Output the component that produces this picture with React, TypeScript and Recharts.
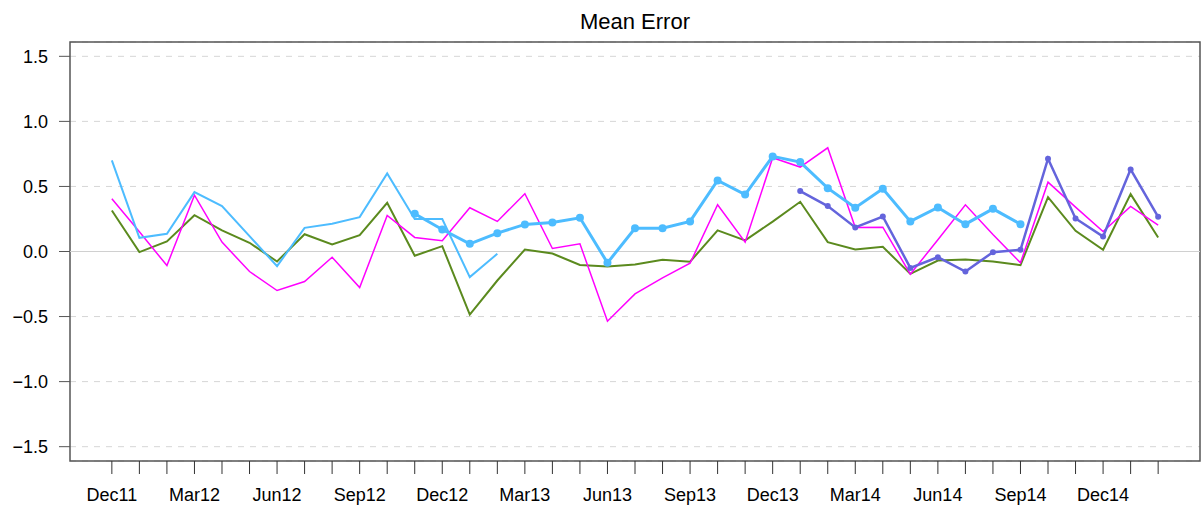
import React from "react";
import {
  CartesianGrid,
  Line,
  LineChart,
  ReferenceArea,
  ReferenceLine,
  XAxis,
  YAxis,
} from "recharts";

const months = [
  "Dec11", "Jan12", "Feb12", "Mar12", "Apr12", "May12", "Jun12", "Jul12", "Aug12", "Sep12",
  "Oct12", "Nov12", "Dec12", "Jan13", "Feb13", "Mar13", "Apr13", "May13", "Jun13", "Jul13",
  "Aug13", "Sep13", "Oct13", "Nov13", "Dec13", "Jan14", "Feb14", "Mar14", "Apr14", "May14",
  "Jun14", "Jul14", "Aug14", "Sep14", "Oct14", "Nov14", "Dec14", "Jan15", "Feb15",
];

const tickLabels = ["Dec11", "Mar12", "Jun12", "Sep12", "Dec12", "Mar13", "Jun13", "Sep13", "Dec13", "Mar14", "Jun14", "Sep14", "Dec14"];

const yTicks = [-1.5, -1, -0.5, 0, 0.5, 1, 1.5];

const green = [
  0.315, -0.005, 0.077, 0.279, 0.162, 0.067, -0.077, 0.133, 0.054, 0.126,
  0.374, -0.033, 0.041, -0.485, -0.223, 0.015, -0.015, -0.103, -0.115, -0.1,
  -0.064, -0.079, 0.162, 0.085, 0.23, 0.382, 0.072, 0.015, 0.036, -0.172,
  -0.069, -0.062, -0.077, -0.105, 0.418, 0.159, 0.013, 0.441, 0.108,
];

const magenta = [
  0.405, 0.151, -0.108, 0.433, 0.072, -0.154, -0.3, -0.231, -0.044, -0.277,
  0.277, 0.108, 0.082, 0.336, 0.231, 0.444, 0.023, 0.059, -0.536, -0.326,
  -0.203, -0.09, 0.359, 0.072, 0.72, 0.649, 0.797, 0.185, 0.187, -0.174,
  0.09, 0.359, 0.131, -0.087, 0.533, 0.341, 0.154, 0.346, 0.203,
];

const blueThin: (number | null)[] = [
  0.7, 0.105, 0.136, 0.456, 0.349, 0.118, -0.113, 0.182, 0.213, 0.264,
  0.6, 0.249, 0.249, -0.197, -0.018,
];

const blueDots: (number | null)[] = [
  null, null, null, null, null, null, null, null, null, null,
  null, 0.29, 0.169, 0.059, 0.141, 0.208, 0.223, 0.259, -0.087, 0.179,
  0.179, 0.231, 0.546, 0.438, 0.731, 0.687, 0.487, 0.336, 0.482, 0.231,
  0.338, 0.21, 0.328, 0.21,
];

const purple: (number | null)[] = [
  null, null, null, null, null, null, null, null, null, null,
  null, null, null, null, null, null, null, null, null, null,
  null, null, null, null, null, 0.464, 0.349, 0.185, 0.269, -0.126,
  -0.044, -0.154, -0.005, 0.013, 0.713, 0.254, 0.115, 0.631, 0.267,
];

const data = months.map((m, i) => ({
  i,
  month: m,
  green: green[i],
  magenta: magenta[i],
  blueThin: blueThin[i] ?? null,
  blueDots: blueDots[i] ?? null,
  purple: purple[i] ?? null,
}));

const xTicks = months.map((_, i) => i);
const font = "'Liberation Sans', Arial, sans-serif";

const fmtY = (v: number) => (v < 0 ? "\u2212" + Math.abs(v).toFixed(1) : v.toFixed(1));
const fmtX = (v: number) => (tickLabels.includes(months[v]) ? months[v] : "");

export default function App() {
  return (
    <div style={{ position: "absolute", left: 0, top: 0, width: 1203, height: 509, background: "#fff" }}>
      <div
        style={{
          position: "absolute",
          left: 70,
          width: 1130,
          top: 9,
          textAlign: "center",
          fontFamily: font,
          fontSize: 22,
          color: "#000",
        }}
      >
        Mean Error
      </div>
      <LineChart width={1203} height={509} data={data} margin={{ top: 42, right: 3, bottom: 0, left: 0 }}>
        <CartesianGrid horizontal vertical={false} stroke="#d6d6d6" strokeDasharray="6 6" />
        <ReferenceLine y={0} stroke="#d0d0d0" strokeWidth={1.2} />
        <XAxis
          dataKey="i"
          type="number"
          domain={[-1.52, 39.52]}
          ticks={xTicks}
          tickFormatter={fmtX}
          interval={0}
          height={48}
          tickSize={13}
          tickMargin={14}
          axisLine={false}
          tickLine={{ stroke: "#333" }}
          tick={{ fill: "#000", fontSize: 18, fontFamily: font }}
          allowDataOverflow
        />
        <YAxis
          type="number"
          domain={[-1.61, 1.61]}
          ticks={yTicks}
          tickFormatter={fmtY}
          width={70}
          tickSize={11}
          tickMargin={11}
          axisLine={false}
          tickLine={{ stroke: "#555" }}
          tick={{ fill: "#000", fontSize: 18, fontFamily: font }}
          allowDataOverflow
        />
        <ReferenceArea x1={-1.52} x2={39.52} y1={-1.61} y2={1.61} fill="none" stroke="#555" strokeWidth={1.5} />
        <Line dataKey="green" stroke="#5b8a1e" strokeWidth={2} dot={false} isAnimationActive={false} />
        <Line dataKey="magenta" stroke="#ff00ff" strokeWidth={1.5} dot={false} isAnimationActive={false} />
        <Line dataKey="blueThin" stroke="#4dbcff" strokeWidth={2} dot={false} isAnimationActive={false} />
        <Line
          dataKey="blueDots"
          stroke="#4dbcff"
          strokeWidth={3}
          dot={{ r: 4, fill: "#4dbcff", stroke: "none" }}
          isAnimationActive={false}
        />
        <Line
          dataKey="purple"
          stroke="#6464dc"
          strokeWidth={2.5}
          dot={{ r: 3, fill: "#6464dc", stroke: "none" }}
          isAnimationActive={false}
        />
      </LineChart>
    </div>
  );
}
